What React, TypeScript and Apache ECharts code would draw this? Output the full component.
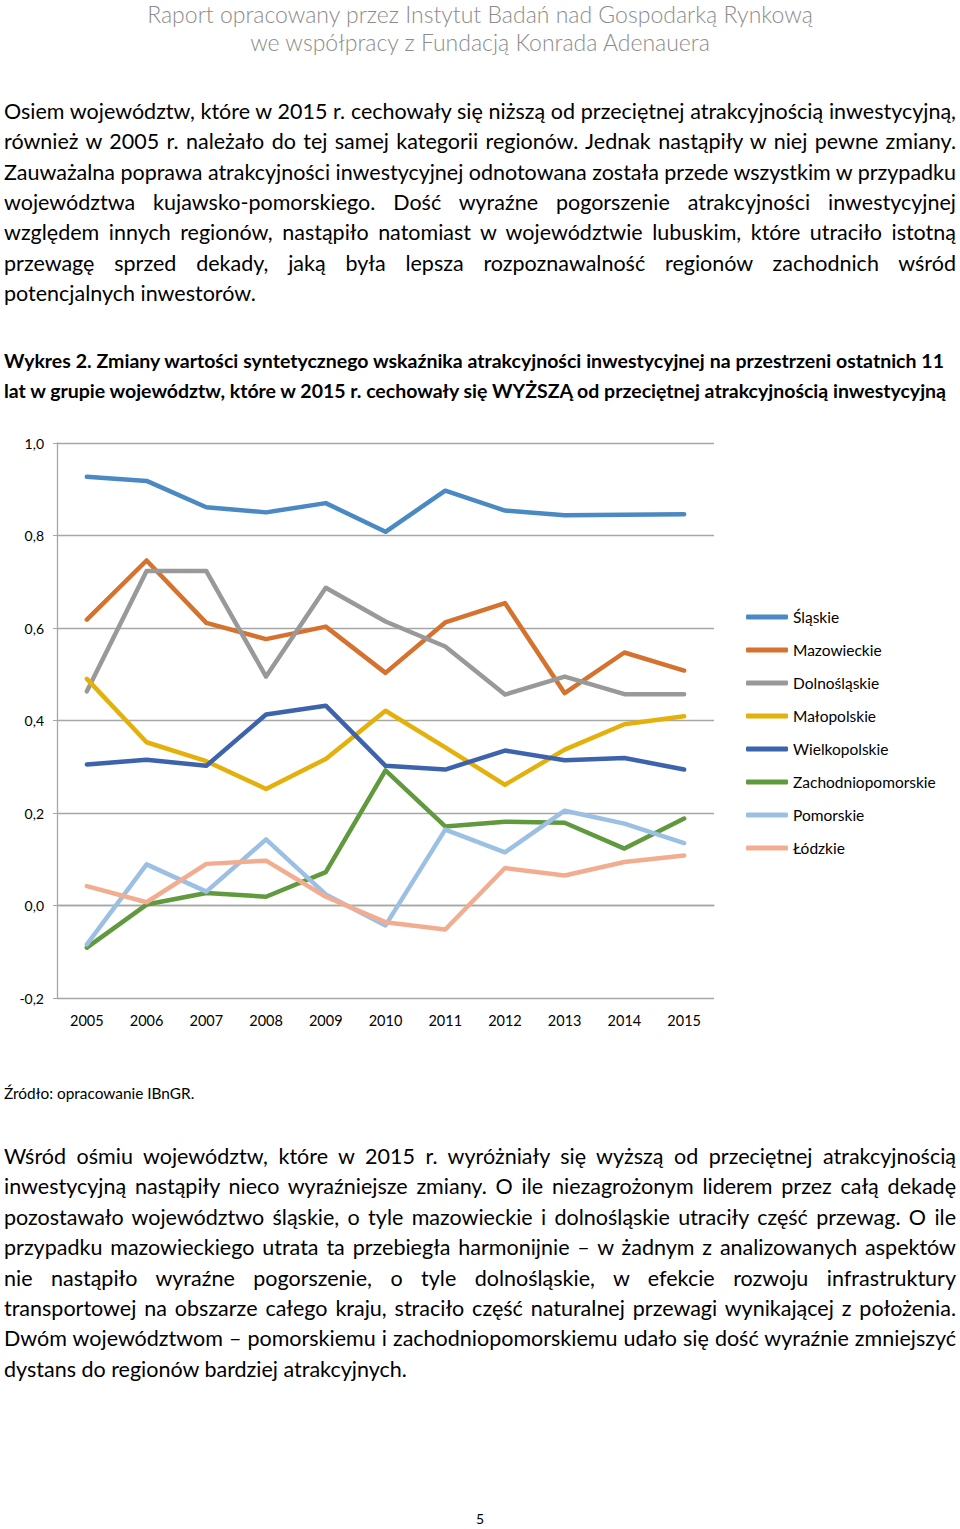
import React, { useEffect, useLayoutEffect, useRef } from "react";
import * as echarts from "echarts";

const years = ["2005", "2006", "2007", "2008", "2009", "2010", "2011", "2012", "2013", "2014", "2015"];
const seriesNames = ["Śląskie", "Mazowieckie", "Dolnośląskie", "Małopolskie", "Wielkopolskie", "Zachodniopomorskie", "Pomorskie", "Łódzkie"];
const slaskie = [0.927, 0.918, 0.861, 0.85, 0.87, 0.808, 0.897, 0.854, 0.844, 0.845, 0.846];
const mazowieckie = [0.618, 0.746, 0.611, 0.576, 0.603, 0.503, 0.612, 0.654, 0.459, 0.547, 0.508];
const dolnoslaskie = [0.463, 0.723, 0.723, 0.495, 0.687, 0.614, 0.56, 0.456, 0.495, 0.457, 0.457];
const malopolskie = [0.49, 0.353, 0.312, 0.252, 0.317, 0.421, 0.342, 0.261, 0.337, 0.392, 0.409];
const wielkopolskie = [0.305, 0.315, 0.302, 0.413, 0.432, 0.302, 0.294, 0.335, 0.314, 0.319, 0.294];
const zachodniopomorskie = [-0.091, 0.002, 0.027, 0.019, 0.072, 0.292, 0.171, 0.181, 0.179, 0.123, 0.188];
const pomorskie = [-0.084, 0.089, 0.03, 0.143, 0.024, -0.043, 0.164, 0.115, 0.205, 0.177, 0.135];
const lodzkie = [0.042, 0.007, 0.09, 0.097, 0.019, -0.036, -0.052, 0.081, 0.065, 0.094, 0.108];
const seriesValues = [slaskie, mazowieckie, dolnoslaskie, malopolskie, wielkopolskie, zachodniopomorskie, pomorskie, lodzkie];
const seriesColors = ["#4A89C2", "#D5722E", "#999999", "#E4B00B", "#3D63AD", "#60993E", "#9CC0E4", "#F2AD91"];

const headerLines = [
  "Raport opracowany przez Instytut Badań nad Gospodarką Rynkową",
  "we współpracy z Fundacją Konrada Adenauera",
];
const para1 = [
  "Osiem województw, które w 2015 r. cechowały się niższą od przeciętnej atrakcyjnością inwestycyjną,",
  "również w 2005 r. należało do tej samej kategorii regionów. Jednak nastąpiły w niej pewne zmiany.",
  "Zauważalna poprawa atrakcyjności inwestycyjnej odnotowana została przede wszystkim w przypadku",
  "województwa kujawsko-pomorskiego. Dość wyraźne pogorszenie atrakcyjności inwestycyjnej",
  "względem innych regionów, nastąpiło natomiast w województwie lubuskim, które utraciło istotną",
  "przewagę sprzed dekady, jaką była lepsza rozpoznawalność regionów zachodnich wśród",
  "potencjalnych inwestorów.",
];
const captionLines = [
  "Wykres 2. Zmiany wartości syntetycznego wskaźnika atrakcyjności inwestycyjnej na przestrzeni ostatnich 11",
  "lat w grupie województw, które w 2015 r. cechowały się WYŻSZĄ od przeciętnej atrakcyjnością inwestycyjną",
];
const sourceText = "Źródło: opracowanie IBnGR.";
const para2 = [
  "Wśród ośmiu województw, które w 2015 r. wyróżniały się wyższą od przeciętnej atrakcyjnością",
  "inwestycyjną nastąpiły nieco wyraźniejsze zmiany. O ile niezagrożonym liderem przez całą dekadę",
  "pozostawało województwo śląskie, o tyle mazowieckie i dolnośląskie utraciły część przewag. O ile",
  "przypadku mazowieckiego utrata ta przebiegła harmonijnie – w żadnym z analizowanych aspektów",
  "nie nastąpiło wyraźne pogorszenie, o tyle dolnośląskie, w efekcie rozwoju infrastruktury",
  "transportowej na obszarze całego kraju, straciło część naturalnej przewagi wynikającej z położenia.",
  "Dwóm województwom – pomorskiemu i zachodniopomorskiemu udało się dość wyraźnie zmniejszyć",
  "dystans do regionów bardziej atrakcyjnych.",
];
const pageNumber = "5";

const FONT = "Lato, 'Open Sans', sans-serif";

function FitLine(props: { text: string; top: number; size: number; bold?: boolean; width?: number; fit: boolean; left?: number }) {
  const { text, top, size, bold, fit } = props;
  const width = props.width ?? 952;
  const left = props.left ?? 4;
  const spanRef = useRef<HTMLSpanElement>(null);
  useLayoutEffect(() => {
    const s = spanRef.current;
    if (!s) return;
    s.style.wordSpacing = "0px";
    s.style.letterSpacing = "0px";
    const w = s.getBoundingClientRect().width;
    const spaces = (text.match(/ /g) || []).length;
    if (fit) {
      if (w > width) {
        s.style.letterSpacing = ((width - w) / text.length).toFixed(3) + "px";
      } else if (spaces > 0) {
        s.style.wordSpacing = ((width - w) / spaces).toFixed(3) + "px";
      }
    } else if (w > width) {
      s.style.letterSpacing = ((width - w) / text.length).toFixed(3) + "px";
    }
  }, [text, width, fit, size]);
  return (
    <div
      style={{
        position: "absolute",
        left,
        top: top - 15,
        height: 30,
        lineHeight: "30px",
        width: width + 20,
        whiteSpace: "nowrap",
        fontFamily: FONT,
        fontSize: size,
        fontWeight: bold ? 700 : 400,
        color: "#000",
      }}
    >
      <span ref={spanRef} style={{ display: "inline-block", whiteSpace: "nowrap" }}>{text}</span>
    </div>
  );
}

export default function App() {
  const ref = useRef<HTMLDivElement>(null);
  useEffect(() => {
    if (!ref.current) return;
    const chart = echarts.init(ref.current, undefined, { renderer: "svg" });
    chart.setOption({
      animation: false,
      textStyle: { fontFamily: FONT },
      grid: { left: 57, right: 246, top: 23, bottom: 52, containLabel: false },
      legend: {
        orient: "vertical",
        left: 746,
        top: 188,
        icon: "roundRect",
        itemWidth: 42,
        itemHeight: 5,
        itemGap: 15,
        padding: 0,
        textStyle: { fontSize: 15.5, lineHeight: 18, color: "#000", fontFamily: FONT },
        data: seriesNames,
      },
      xAxis: {
        type: "category",
        data: years,
        boundaryGap: true,
        axisLine: { show: true, lineStyle: { color: "#A6A6A6", width: 1.3 } },
        axisTick: { show: false },
        axisLabel: { fontSize: 14.5, color: "#000", margin: 15, fontFamily: FONT },
      },
      yAxis: {
        type: "value",
        min: -0.2,
        max: 1.0,
        interval: 0.2,
        axisLine: { show: true, lineStyle: { color: "#A6A6A6", width: 1.3 } },
        axisTick: { show: true, length: 4, lineStyle: { color: "#A6A6A6" } },
        splitLine: { show: true, lineStyle: { color: "#A6A6A6", width: 1.3 } },
        axisLabel: {
          fontSize: 14,
          color: "#000",
          margin: 13,
          fontFamily: FONT,
          formatter: (v: number) => v.toFixed(1).replace(".", ","),
        },
      },
      series: seriesNames.map((name, i) => ({
        name,
        type: "line",
        data: seriesValues[i],
        symbol: "none",
        color: seriesColors[i],
        lineStyle: { width: 4.5, color: seriesColors[i], cap: "round", join: "round" },
      })),
    });
    return () => chart.dispose();
  }, []);

  return (
    <div style={{ position: "absolute", left: 0, top: 0, width: 960, height: 1529, background: "#fff", overflow: "hidden" }}>
      {headerLines.map((t, i) => (
        <div
          key={"h" + i}
          style={{
            position: "absolute",
            left: 0,
            top: i === 0 ? 0 : 28,
            width: 960,
            height: 28,
            lineHeight: "28px",
            textAlign: "center",
            fontFamily: FONT,
            fontWeight: 300,
            fontSize: 23,
            color: "#8C8C8C",
            whiteSpace: "nowrap",
          }}
        >
          {t}
        </div>
      ))}
      {para1.map((t, i) => (
        <FitLine key={"p1" + i} text={t} top={111 + i * 30.3} fit={i < para1.length - 1} size={21.5} />
      ))}
      {captionLines.map((t, i) => (
        <FitLine key={"c" + i} text={t} top={361 + i * 30} fit={true} size={19.5} bold width={i === 0 ? 940 : 942} />
      ))}
      <div
        ref={ref}
        style={{ position: "absolute", left: 0, top: 420, width: 960, height: 630 }}
      />
      <FitLine text={sourceText} top={1093} fit={false} size={15.4} />
      {para2.map((t, i) => (
        <FitLine key={"p2" + i} text={t} top={1156 + i * 30.4} fit={i < para2.length - 1} size={21.5} />
      ))}
      <div
        style={{
          position: "absolute",
          left: 0,
          top: 1509,
          width: 960,
          textAlign: "center",
          fontFamily: FONT,
          fontSize: 14,
          lineHeight: "20px",
          color: "#000",
        }}
      >
        {pageNumber}
      </div>
    </div>
  );
}
